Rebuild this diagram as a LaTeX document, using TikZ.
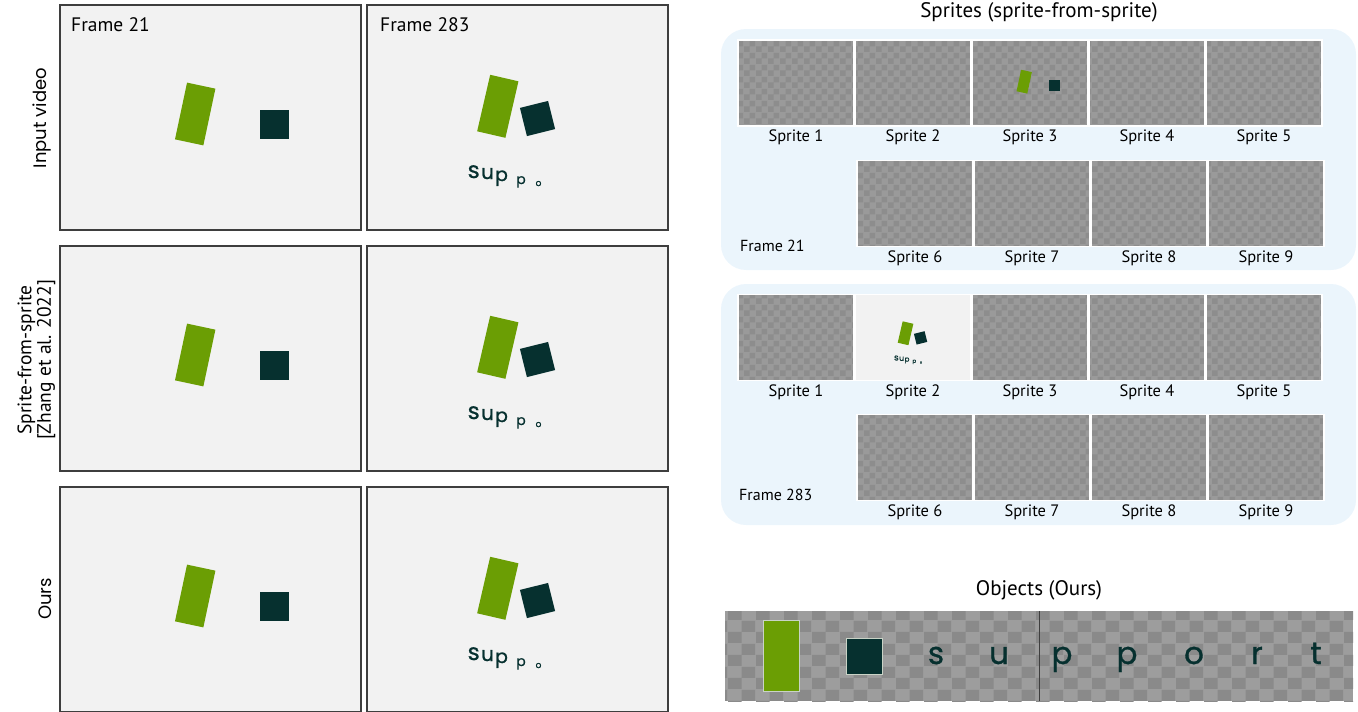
\documentclass[tikz,border=0pt]{standalone}
\usepackage{fontspec}
\setmainfont{PT Sans}
\newfontfamily\popfont{Poppins}
\newfontfamily\popmed{Poppins}[FakeBold=0.9]
\usetikzlibrary{patterns}

\definecolor{objgreen}{HTML}{6B9E04}
\definecolor{objdark}{HTML}{06302F}
\definecolor{framebg}{HTML}{F2F2F2}
\definecolor{frameline}{HTML}{3E3E3E}
\definecolor{panelblue}{HTML}{EBF5FC}
\definecolor{checklight}{HTML}{9A9A9A}
\definecolor{checkdark}{HTML}{8D8D8D}
\definecolor{striplight}{HTML}{9D9D9D}
\definecolor{stripdark}{HTML}{8A8A8A}
\definecolor{objedge}{HTML}{C9D3C6}

\pgfdeclarepatternformonly{finecheck}{\pgfpointorigin}{\pgfqpoint{12pt}{12pt}}{\pgfqpoint{12pt}{12pt}}{%
  \pgfpathrectangle{\pgfpointorigin}{\pgfqpoint{6pt}{6pt}}%
  \pgfpathrectangle{\pgfqpoint{6pt}{6pt}}{\pgfqpoint{6pt}{6pt}}%
  \pgfusepath{fill}}
\pgfdeclarepatternformonly{coarsecheck}{\pgfpointorigin}{\pgfqpoint{28pt}{22.5pt}}{\pgfqpoint{28pt}{22.5pt}}{%
  \pgfpathrectangle{\pgfpointorigin}{\pgfqpoint{14pt}{11.25pt}}%
  \pgfpathrectangle{\pgfqpoint{14pt}{11.25pt}}{\pgfqpoint{14pt}{11.25pt}}%
  \pgfusepath{fill}}

\newcommand{\fs}[1]{\fontsize{#1}{#1}\selectfont}

% contents of the two frames, about the frame centre
\newcommand{\framefirst}{%
  \node[grbox, rotate=-12] (gr) at (-15.3,-3.5) {};
  \node[dkbox] (sq) at (64,7) {};}
\newcommand{\framesecond}{%
  \node[grbox, rotate=-13] (gr) at (-19.7,-11.2) {};
  \node[dkbox, rotate=14] (sq) at (20,1) {};
  \node[ltr, font=\popmed\fs{23}] (s) at (-43.8,60.5) {s};
  \node[ltr, font=\popmed\fs{20}] (u) at (-30,61.5) {u};
  \node[ltr, font=\popmed\fs{19}] (p) at (-16,63.5) {p};
  \node[ltr, font=\popmed\fs{14}] (p2) at (3.5,66.5) {p};
  \node[ltr, font=\popmed\fs{9}] (o) at (21,68.5) {o};}

\begin{document}
\begin{tikzpicture}[x=1pt, y=-1pt, frame/.style={draw=frameline, fill=framebg, line width=1.3, minimum width=301, minimum height=225, inner sep=0}, grbox/.style={fill=objgreen, inner sep=0, minimum width=29, minimum height=58}, dkbox/.style={fill=objdark, inner sep=0, minimum width=29, minimum height=29}, ltr/.style={anchor=base, inner sep=0, text=objdark}, panel/.style={fill=panelblue, rounded corners=25, minimum width=635, minimum height=241, inner sep=0}, plaintile/.style={draw=white, line width=1.6, fill=framebg, minimum width=115.5, minimum height=86, inner sep=0, label distance=0}, tile/.style={plaintile, preaction={fill=checklight}, pattern=finecheck, pattern color=checkdark}, lbl/.style={anchor=base, yshift=-15pt, inner sep=0, font=\fs{16.5}}, side/.style={rotate=90, anchor=base, font=\popfont\fs{18}}, ttl/.style={anchor=base, font=\fs{21}}, big/.style={anchor=base, inner sep=0, text=objdark, font=\popmed\fs{31}}]
	\useasboundingbox (0,0) rectangle (1358,712);
	\node[frame] (f11) at (210.5,117.5) {};
	\node[frame] (f12) at (517.5,117.5) {};
	\node[frame] (f21) at (210.5,358.5) {};
	\node[frame] (f22) at (517.5,358.5) {};
	\node[frame] (f31) at (210.5,599.5) {};
	\node[frame] (f32) at (517.5,599.5) {};
	\begin{scope}[shift={(f11.center)}, name prefix=f11-] \framefirst \end{scope}
	\begin{scope}[shift={(f12.center)}, name prefix=f12-] \framesecond \end{scope}
	\begin{scope}[shift={(f21.center)}, name prefix=f21-] \framefirst \end{scope}
	\begin{scope}[shift={(f22.center)}, name prefix=f22-] \framesecond \end{scope}
	\begin{scope}[shift={(f31.center)}, name prefix=f31-] \framefirst \end{scope}
	\begin{scope}[shift={(f32.center)}, name prefix=f32-] \framesecond \end{scope}
	\node[anchor=base west, inner sep=0, font=\fs{19.5}] (fa) at (71,31) {Frame 21};
	\node[anchor=base west, inner sep=0, font=\fs{19.5}] (fb) at (380,31) {Frame 283};
	\node[side] (inp) at (46.5,118) {Input video};
	\node[rotate=90, align=center, inner sep=0, font=\fs{19.5}] (sfs) at (36.5,360) {Sprite-from-sprite\\{[Zhang et al. 2022]}};
	\node[side] (ours) at (51.5,599) {Ours};
	\node[ttl] (tsp) at (1039,17) {Sprites (sprite-from-sprite)};
	\node[panel] (pa) at (1038.5,149.5) {};
	\node[panel] (pb) at (1038.5,404.5) {};
	\node[tile, label={[lbl]below:Sprite 1}] (a1) at (796,83) {};
	\node[tile, label={[lbl]below:Sprite 2}] (a2) at (913,83) {};
	\node[tile, label={[lbl]below:Sprite 3}] (a3) at (1030,83) {};
	\node[tile, label={[lbl]below:Sprite 4}] (a4) at (1147,83) {};
	\node[tile, label={[lbl]below:Sprite 5}] (a5) at (1264,83) {};
	\node[tile, label={[lbl]below:Sprite 6}] (a6) at (915,203.5) {};
	\node[tile, label={[lbl]below:Sprite 7}] (a7) at (1032,203.5) {};
	\node[tile, label={[lbl]below:Sprite 8}] (a8) at (1149,203.5) {};
	\node[tile, label={[lbl]below:Sprite 9}] (a9) at (1266,203.5) {};
	\node[anchor=base west, inner sep=0, font=\fs{16}] (pla) at (740,251) {Frame 21};
	\node[tile, label={[lbl]below:Sprite 1}] (b1) at (796,337.5) {};
	\node[plaintile, label={[lbl]below:Sprite 2}] (b2) at (913,337.5) {};
	\node[tile, label={[lbl]below:Sprite 3}] (b3) at (1030,337.5) {};
	\node[tile, label={[lbl]below:Sprite 4}] (b4) at (1147,337.5) {};
	\node[tile, label={[lbl]below:Sprite 5}] (b5) at (1264,337.5) {};
	\node[tile, label={[lbl]below:Sprite 6}] (b6) at (915,457.5) {};
	\node[tile, label={[lbl]below:Sprite 7}] (b7) at (1032,457.5) {};
	\node[tile, label={[lbl]below:Sprite 8}] (b8) at (1149,457.5) {};
	\node[tile, label={[lbl]below:Sprite 9}] (b9) at (1266,457.5) {};
	\node[anchor=base west, inner sep=0, font=\fs{16}] (plb) at (739,500) {Frame 283};
	\begin{scope}[shift={(a3.center)}, scale=0.379, transform shape, name prefix=a3-] \framefirst \end{scope}
	\begin{scope}[shift={(b2.center)}, scale=0.379, transform shape, name prefix=b2-] \framesecond \end{scope}
	\node[ttl] (tob) at (1039,595) {Objects (Ours)};
	\node[preaction={fill=striplight}, pattern=coarsecheck, pattern color=stripdark, minimum width=628, minimum height=90, inner sep=0] (objs) at (1039,656) {};
	\draw[frameline, line width=0.8] (objs.north) -- (objs.south);
	\node[fill=objgreen, draw=objedge, line width=0.8, minimum width=36, minimum height=71, inner sep=0] (ogr) at (781,655.5) {};
	\node[fill=objdark, draw=objedge, line width=0.8, minimum width=36, minimum height=36, inner sep=0] (osq) at (864,656) {};
	\node[big] (ls) at (936,664) {s};
	\node[big] (lu) at (999,664) {u};
	\node[big] (lp) at (1062,664) {p};
	\node[big] (lq) at (1127,664) {p};
	\node[big] (lo) at (1194,664) {o};
	\node[big] (lr) at (1257,664) {r};
	\node[big] (lt) at (1316,664) {t};
\end{tikzpicture}
\end{document}
